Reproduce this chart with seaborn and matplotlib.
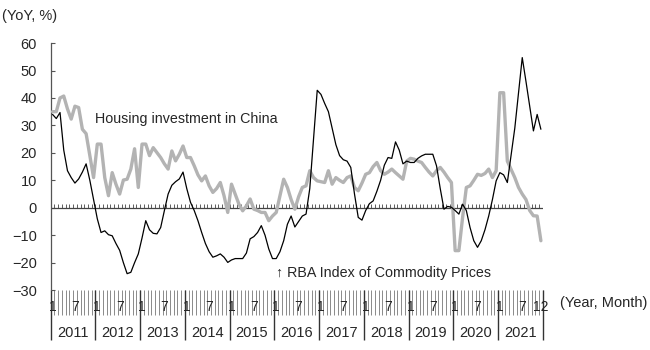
import numpy as np
import pandas as pd
import matplotlib.pyplot as plt
import seaborn as sns

# Monthly YoY % values, Jan 2011 - Dec 2021
rba_index = [
    34, 32.5, 34.7, 21, 13.5, 11, 9, 10.5, 13, 16, 10, 3,               # 2011
    -4, -9, -8.4, -9.8, -10.2, -13, -15.5, -20, -24, -23.5, -20, -16.8,  # 2012
    -11, -4.7, -8, -9.3, -9.5, -7.2, -1, 5, 8.2, 9.5, 10.5, 13,          # 2013
    7, 2, -1, -4.7, -9, -13, -16, -18, -17.5, -16.8, -18, -19.9,         # 2014
    -19, -18.5, -18.5, -18.5, -16.5, -11.3, -10.5, -9, -6.5, -10, -15, -18.5,  # 2015
    -18.5, -16, -12, -6, -3, -7, -5, -3, -2.3, 7, 25, 42.8,              # 2016
    41.3, 38, 35, 29, 23, 19, 17.5, 17, 14.7, 5, -3.5, -4.5,             # 2017
    -1, 1.5, 2.5, 6, 10, 15.5, 18.3, 18, 24, 21, 16, 17,                 # 2018
    16.5, 16.5, 18, 18.9, 19.5, 19.5, 19.5, 15.3, 7, -0.5, 0.5, 0.2,     # 2019
    -1, -2.3, 1.3, -1, -7.2, -12, -14.4, -12, -8, -3, 3, 9.8,            # 2020
    12.8, 12, 9.2, 19, 29, 42, 54.7, 46, 37, 28, 34, 28.6,               # 2021
]
china_housing = [
    35, 35, 40, 40.7, 36, 32.3, 37, 36.5, 28.6, 27, 19, 11,              # 2011
    23.2, 23.2, 11, 4.4, 12.8, 8.6, 5, 10.1, 10.4, 14.1, 21.5, 7.4,      # 2012
    23.2, 23.2, 19, 21.9, 20.1, 18.3, 16, 14.1, 20.7, 17.1, 19.5, 22.5,  # 2013
    18.3, 18.3, 15.3, 12, 9.8, 11.6, 8, 5.6, 7, 9.2, 4.4, -1.7,          # 2014
    8.6, 5, 1.3, -1.1, 0.7, 3.2, -0.5, -1, -1.7, -1.7, -4.7, -3,         # 2015
    -1.7, 4.4, 10.4, 7.4, 3, -0.5, 4, 7.4, 8, 13.5, 11, 9.8,             # 2016
    9.5, 9.2, 13.5, 8.6, 11, 10, 9.2, 11, 11.6, 7.4, 6.2, 9,             # 2017
    12.2, 12.8, 15, 16.5, 13.5, 12.2, 13, 14.1, 12.8, 11.6, 10.4, 17,    # 2018
    18, 17.7, 17, 16.5, 14.7, 13, 11.6, 13.5, 14.7, 13, 11, 9.2,         # 2019
    -15.6, -15.6, -3.5, 7.4, 8, 10, 12.2, 11.8, 12.5, 14.1, 11, 13.5,    # 2020
    41.9, 41.9, 17, 14, 11, 7.4, 5, 3, -1, -2.9, -3, -12,                # 2021
]
years = list(range(2011, 2022))
yticks = list(range(-30, 61, 10))

n = len(rba_index)
df = pd.DataFrame({'pos': np.arange(n) + 0.5,
                   'rba': rba_index, 'china': china_housing})

sns.set_style('white')
plt.rcParams['font.family'] = ['Liberation Sans', 'DejaVu Sans']

fig = plt.figure(figsize=(6.5, 3.5), dpi=100)
ax = fig.add_axes([0.078, 0.171, 0.757, 0.706])

sns.lineplot(data=df, x='pos', y='china', color='#b3b3b3', lw=2.4, ax=ax, zorder=3)
sns.lineplot(data=df, x='pos', y='rba', color='black', lw=0.9, ax=ax, zorder=4)

ax.set_xlim(0, n)
ax.set_ylim(-30, 60)
ax.set_xlabel('')
ax.set_ylabel('')

# zero line with monthly ticks on top
ax.axhline(0, color='#444444', lw=0.9, zorder=2)
ax.vlines(np.arange(n + 1), 0, 1.4, color='#444444', lw=0.6, zorder=2)

for s in ['top', 'right', 'bottom']:
    ax.spines[s].set_visible(False)
ax.spines['left'].set_color('#555555')
ax.spines['left'].set_linewidth(0.9)

ax.set_yticks(yticks)
ax.tick_params(axis='y', left=True, direction='in', length=3, width=0.8,
               color='#555555', labelsize=10.5, pad=10)

# month ticks below plot
ax.set_xticks(np.arange(n + 1))
ax.tick_params(axis='x', bottom=True, direction='out', length=18, width=0.6,
               color='#777777', labelbottom=False)

trans = ax.get_xaxis_transform()
ax.vlines([12 * k for k in range(len(years))] + [n], -0.202, 0,
          transform=trans, color='#333333', lw=1.0, clip_on=False)

for k, yr in enumerate(years):
    ax.text(12 * k + 0.5, -0.067, '1', transform=trans, ha='center', va='center',
            fontsize=10)
    ax.text(12 * k + 6.5, -0.067, '7', transform=trans, ha='center', va='center',
            fontsize=10)
    ax.text(12 * k + 6, -0.173, str(yr), transform=trans, ha='center', va='center',
            fontsize=10.5)
ax.text(n - 0.5, -0.067, '12', transform=trans, ha='center', va='center', fontsize=10)

fig.text(0.862, 0.134, '(Year, Month)', ha='left', va='center', fontsize=10.5)
fig.text(0.003, 0.955, '(YoY, %)', ha='left', va='center', fontsize=10.5)

ax.text(11.8, 32.4, 'Housing investment in China', ha='left', va='center',
        fontsize=10.3)
ax.text(60.4, -23.6, '↑ RBA Index of Commodity Prices', ha='left', va='center',
        fontsize=10.3)

fig.savefig('out.png', dpi=100)
